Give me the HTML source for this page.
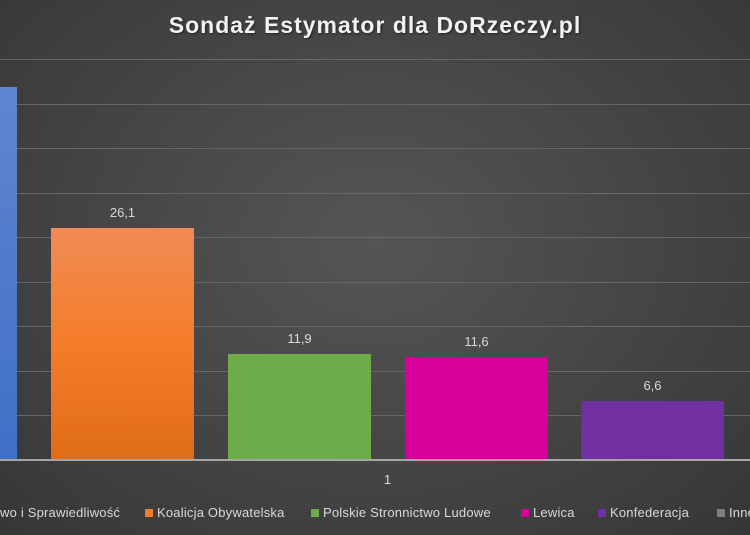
<!DOCTYPE html>
<html><head><meta charset="utf-8"><style>
html,body{margin:0;padding:0}
body{width:750px;height:535px;overflow:hidden;background:radial-gradient(ellipse at 50% 45%,#555 0%,#464646 50%,#363636 100%);font-family:"Liberation Sans",sans-serif;position:relative}
.t{position:absolute;top:12px;left:0;width:750px;text-align:center;color:#f2f2f2;font-size:23px;font-weight:bold;letter-spacing:1px;text-shadow:1px 1px 2px #222}
.g{position:absolute;left:0;width:750px;height:1px;background:#666}
.b{position:absolute;bottom:75px}
.l{position:absolute;color:#d9d9d9;font-size:13px;text-align:center;width:143px}
.lg{position:absolute;top:505px;color:#d9d9d9;font-size:13px;white-space:nowrap;letter-spacing:0.2px}
.sq{display:inline-block;width:8px;height:8px;margin-right:4px;vertical-align:0}
</style></head><body>
<div class="t">Sondaż Estymator dla DoRzeczy.pl</div>
<div class="g" style="top:59px"></div>
<div class="g" style="top:104px"></div>
<div class="g" style="top:148px"></div>
<div class="g" style="top:193px"></div>
<div class="g" style="top:237px"></div>
<div class="g" style="top:282px"></div>
<div class="g" style="top:326px"></div>
<div class="g" style="top:371px"></div>
<div class="g" style="top:415px"></div>
<div class="b" style="left:0;width:17px;top:87px;height:373px;background:linear-gradient(#5f86d0,#3f6fc6)"></div>
<div class="b" style="left:51px;width:143px;top:228px;height:232px;background:linear-gradient(#f08b55,#f47d2a 50%,#e06c18)"></div>
<div class="b" style="left:228px;width:143px;top:354px;height:106px;background:#6eab4a"></div>
<div class="b" style="left:405px;width:143px;top:357px;height:103px;background:#d6009a"></div>
<div class="b" style="left:581px;width:143px;top:401px;height:59px;background:#7030a0"></div>
<div class="g" style="top:459px;height:2px;background:#a6a6a6"></div>
<div class="l" style="left:51px;top:205px">26,1</div>
<div class="l" style="left:228px;top:331px">11,9</div>
<div class="l" style="left:405px;top:334px">11,6</div>
<div class="l" style="left:581px;top:378px">6,6</div>
<div class="l" style="left:316px;top:472px">1</div>
<div class="lg" style="left:0">wo i Sprawiedliwość</div>
<div class="lg" style="left:145px"><span class="sq" style="background:#f47d2a"></span>Koalicja Obywatelska</div>
<div class="lg" style="left:311px"><span class="sq" style="background:#6eab4a"></span>Polskie Stronnictwo Ludowe</div>
<div class="lg" style="left:521px"><span class="sq" style="background:#d6009a"></span>Lewica</div>
<div class="lg" style="left:598px"><span class="sq" style="background:#7030a0"></span>Konfederacja</div>
<div class="lg" style="left:717px"><span class="sq" style="background:#7f7f7f"></span>Inne</div>
</body></html>
